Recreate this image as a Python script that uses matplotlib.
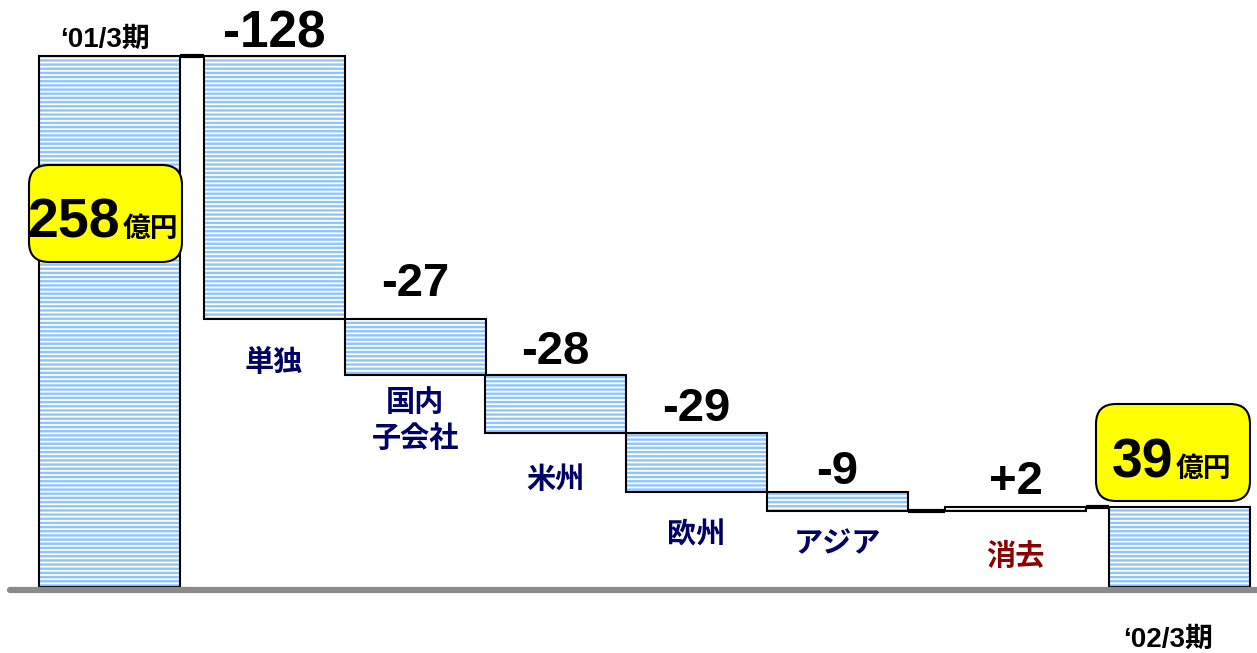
import matplotlib
matplotlib.use('agg')
import matplotlib.pyplot as plt
from matplotlib.patches import FancyBboxPatch
import numpy as np

plt.rcParams['font.family'] = ['Liberation Sans', 'Noto Sans CJK JP']
plt.rcParams['hatch.linewidth'] = 1.7

# profit bridge, 100 million yen
start_label = '‘01/3期'
end_label = '‘02/3期'
start_value = 258
end_value = 39
step_names = ['単独', '国内\n子会社', '米州', '欧州', 'アジア', '消去']
step_values = [-128, -27, -28, -29, -9, 2]
unit = '億円'

# layout (bar centres in bar widths)
xpos = np.array([0, 1.167, 2.167, 3.163, 4.163, 5.163, 6.426, 7.585])
width = 1.0
label_dy = [-2, 10, 1, 1, -1, 2]          # value label lift, points
name_dy = [-31, -33, -34, -31, -24, -33]  # category label drop, points

BLUE = '#8EC5FF'
NAVY = '#000066'

fig = plt.figure(figsize=(12.57, 6.53), dpi=100)
ax = fig.add_axes([0, 0, 1, 1])
ax.set_xlim(-0.777, 8.138)
ax.set_ylim(-32.07, 285.2)
ax.axis('off')

# waterfall geometry from the values
running = np.cumsum([start_value] + step_values)
bottoms, heights = [0], [start_value]
for i, v in enumerate(step_values):
    bottoms.append(min(running[i], running[i + 1]))
    heights.append(abs(v))
bottoms.append(0)
heights.append(end_value)
bottoms = np.array(bottoms, dtype=float)
heights = np.array(heights, dtype=float)

colors = [BLUE] * len(xpos)
colors[6] = '#F6C8C8'
# striped fill (hatch colour follows edgecolor)
ax.bar(xpos, heights, width, bottom=bottoms, color='white',
       edgecolor=colors, hatch='----', linewidth=0, zorder=2)
ax.bar(xpos, heights, width, bottom=bottoms, fill=False,
       edgecolor='black', linewidth=1.5, zorder=3)

# connectors across the gaps
for i in range(len(xpos) - 1):
    x0 = xpos[i] + width / 2
    x1 = xpos[i + 1] - width / 2
    if x1 - x0 > 0.01:
        lvl = running[min(i, len(running) - 1)]
        ax.plot([x0, x1], [lvl, lvl], color='black', lw=3,
                solid_capstyle='butt', zorder=4)

# baseline
ax.axhline(-1.5, xmin=10 / 1257, xmax=1, color='#8A8A8A', lw=4.5,
           solid_capstyle='round', zorder=5)

# step value labels and category names
for i, v in enumerate(step_values):
    x = xpos[i + 1]
    top = bottoms[i + 1] + heights[i + 1]
    txt = f'{v:+d}' if v > 0 else f'-{abs(v)}'
    ax.annotate(txt, (x, top), xytext=(0, label_dy[i]), textcoords='offset points',
                ha='center', va='bottom', fontsize=37 if i == 0 else 34,
                fontweight='bold', color='black', zorder=6)
    ax.annotate(step_names[i], (x, bottoms[i + 1]), xytext=(0, name_dy[i]),
                textcoords='offset points', ha='center', va='center',
                fontsize=21, fontweight='bold', linespacing=1.35,
                color='#8B0000' if v > 0 else NAVY, zorder=6)

ax.annotate(start_label, (xpos[0], start_value), xytext=(-3, 2),
            textcoords='offset points', ha='center', va='bottom',
            fontsize=20, fontweight='bold')
ax.annotate(end_label, (xpos[7], 0), xytext=(-8, -38),
            textcoords='offset points', ha='center', va='center',
            fontsize=20, fontweight='bold')


# yellow callouts with the totals, placed in figure inches
def callout(x0, y0, w, h, number, split_x, base_y):
    box = FancyBboxPatch((x0, y0), w, h, boxstyle='round,pad=0,rounding_size=0.2',
                         transform=fig.dpi_scale_trans, facecolor='#FFFF00',
                         edgecolor='black', linewidth=1.5, zorder=7)
    fig.add_artist(box)
    fig.text(split_x, base_y, str(number), transform=fig.dpi_scale_trans,
             ha='right', va='baseline', fontsize=40, fontweight='bold', zorder=8)
    fig.text(split_x + 0.03, base_y, unit, transform=fig.dpi_scale_trans,
             ha='left', va='baseline', fontsize=20, fontweight='bold', zorder=8)


callout(0.29, 3.91, 1.53, 0.97, start_value, 1.20, 4.16)
callout(10.96, 1.52, 1.54, 0.97, end_value, 11.73, 1.76)

fig.savefig('out.png', dpi=100)
